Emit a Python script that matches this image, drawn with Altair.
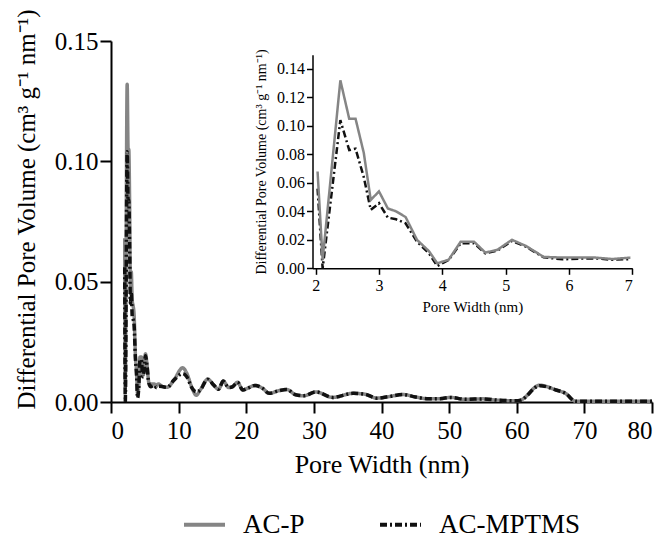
import altair as alt
import pandas as pd

series_names = ["AC-P", "AC-MPTMS"]

# 2-7 nm
inset_x = [2.03, 2.11, 2.39, 2.53, 2.63, 2.76, 2.87, 3.00, 3.14, 3.27, 3.42, 3.60, 3.79, 3.92,
           4.10, 4.29, 4.50, 4.68, 4.87, 5.10, 5.32, 5.60, 5.90, 6.20, 6.42, 6.68, 6.97]
acp_inset = [0.068, 0.006, 0.132, 0.105, 0.105, 0.081, 0.048, 0.054, 0.042, 0.040, 0.036, 0.020,
             0.012, 0.0035, 0.006, 0.0187, 0.0187, 0.011, 0.013, 0.020, 0.0157, 0.008, 0.0075,
             0.0075, 0.0075, 0.0065, 0.0075]
mptms_inset = [0.056, 0.000, 0.104, 0.083, 0.084, 0.064, 0.041, 0.0457, 0.0356, 0.0344, 0.0316,
               0.0187, 0.0105, 0.0016, 0.0058, 0.0176, 0.0176, 0.0105, 0.0124, 0.0192, 0.0152,
               0.0077, 0.0063, 0.0068, 0.0070, 0.0060, 0.0065]

# 7-80 nm
wide_x = [7.6, 8.3, 9.3, 10.6, 11.2, 12.0, 12.6, 13.2, 14.3, 15.2, 15.9, 16.6, 17.4, 18.0, 18.7,
          19.5, 20.2, 21.3, 22.4, 23.4, 24.8, 26.0, 27.3, 28.5, 30.3, 32.8, 35.8, 37.6, 39.3,
          41.0, 43.2, 45.0, 47.0, 48.7, 50.2, 52.4, 55.0, 57.0, 60.0, 60.6, 63.4, 65.8, 67.2,
          68.7, 72.0, 76.0, 80.0]
acp_wide = [0.0064, 0.0061, 0.0091, 0.0142, 0.0120, 0.0057, 0.0028, 0.0050, 0.0095, 0.0070,
            0.0053, 0.0087, 0.0060, 0.0064, 0.0082, 0.0050, 0.0057, 0.0069, 0.0057, 0.0036,
            0.0047, 0.0052, 0.0030, 0.0026, 0.0042, 0.0019, 0.0036, 0.0032, 0.0016, 0.0022,
            0.0031, 0.0021, 0.0013, 0.0014, 0.0019, 0.0011, 0.0013, 0.0008, 0.0005, 0.0008,
            0.0070, 0.0050, 0.0036, 0.0003, 0.0003, 0.0003, 0.0003]
mptms_wide = [0.0064, 0.0061, 0.0091, 0.0118, 0.0105, 0.0057, 0.0042, 0.0050, 0.0095, 0.0070,
              0.0053, 0.0087, 0.0060, 0.0064, 0.0082, 0.0050, 0.0057, 0.0069, 0.0057, 0.0036,
              0.0047, 0.0052, 0.0030, 0.0026, 0.0042, 0.0019, 0.0036, 0.0032, 0.0016, 0.0022,
              0.0031, 0.0021, 0.0013, 0.0014, 0.0019, 0.0011, 0.0013, 0.0008, 0.0005, 0.0008,
              0.0068, 0.0050, 0.0036, 0.0003, 0.0003, 0.0003, 0.0003]

main_ticks_x = [0, 10, 20, 30, 40, 50, 60, 70, 80]
main_ticks_y = [0.0, 0.05, 0.10, 0.15]
inset_ticks_x = [2, 3, 4, 5, 6, 7]
inset_ticks_y = [0.0, 0.02, 0.04, 0.06, 0.08, 0.10, 0.12, 0.14]

FONT = "Liberation Serif"
YTITLE = "Differential Pore Volume (cm³ g⁻¹ nm⁻¹)"

rows = []
for x, a, m in zip(inset_x + wide_x, acp_inset + acp_wide, mptms_inset + mptms_wide):
    rows.append({"x": x, "v": a, "series": "AC-P"})
    rows.append({"x": x, "v": m, "series": "AC-MPTMS"})
df_main = pd.DataFrame(rows)
rows = []
for x, a, m in zip(inset_x, acp_inset, mptms_inset):
    rows.append({"x": x, "v": a, "series": "AC-P"})
    rows.append({"x": x, "v": m, "series": "AC-MPTMS"})
df_inset = pd.DataFrame(rows)

legend = alt.Legend(
    title=None, orient="none", legendX=71, legendY=461, direction="horizontal", padding=0,
    labelFont=FONT, labelFontSize=27, labelColor="black", symbolType="stroke",
    symbolSize=1681, symbolStrokeWidth=4, labelOffset=16, columnPadding=67,
)
color = alt.Color("series:N", scale=alt.Scale(domain=series_names, range=["#858585", "#111111"]),
                  legend=legend)
dash = alt.StrokeDash("series:N", scale=alt.Scale(domain=series_names, range=[[1, 0], [7, 3, 2, 3]]),
                      legend=legend)

main_x = alt.X("x:Q", scale=alt.Scale(domain=[0, 80], nice=False),
               axis=alt.Axis(values=main_ticks_x, title="Pore Width (nm)", labelFontSize=25,
                             titleFontSize=26, tickSize=11, labelPadding=5, titlePadding=8,
                             domainWidth=2, tickWidth=2, titleFontWeight="normal"))
main_y = alt.Y("v:Q", scale=alt.Scale(domain=[0, 0.15], nice=False),
               axis=alt.Axis(values=main_ticks_y, format=".2f", title=YTITLE, labelFontSize=25,
                             titleFontSize=25, tickSize=11, labelPadding=2, domainWidth=2,
                             tickWidth=2, titleFontWeight="normal", titleX=-72, titleY=168,
                             titleAngle=270, titleAlign="center", titleBaseline="bottom"))

def main_layer(name):
    return alt.Chart(df_main).transform_filter(alt.datum.series == name).mark_line(
        strokeWidth=3.5, interpolate="monotone").encode(x=main_x, y=main_y, color=color, strokeDash=dash)

ins_x = alt.X("x:Q", scale=alt.Scale(domain=[1.95, 7], range=[201.5, 521.3], nice=False),
              axis=alt.Axis(orient="bottom", offset=-133.7, values=inset_ticks_x,
                            title="Pore Width (nm)", labelFontSize=16, titleFontSize=15,
                            tickSize=6, labelPadding=3, titlePadding=6, domainWidth=1.5,
                            tickWidth=1.5, titleFontWeight="normal"))
ins_y = alt.Y("v:Q", scale=alt.Scale(domain=[0, 0.15], range=[227.3, 13.7], nice=False),
              axis=alt.Axis(orient="left", offset=-201.5, values=inset_ticks_y, format=".2f",
                            title=YTITLE, labelFontSize=16, titleFontSize=14, tickSize=6,
                            labelPadding=2, titlePadding=8, domainWidth=1.5, tickWidth=1.5,
                            titleFontWeight="normal"))

def inset_layer(name):
    return alt.Chart(df_inset).transform_filter(alt.datum.series == name).mark_line(
        strokeWidth=2.5).encode(x=ins_x, y=ins_y, color=color, strokeDash=dash)

main = alt.layer(main_layer("AC-P"), main_layer("AC-MPTMS"))
inset = alt.layer(inset_layer("AC-MPTMS"), inset_layer("AC-P"))

chart = alt.layer(main, inset).resolve_scale(x="independent", y="independent").properties(
    width=541, height=361,
    autosize=alt.AutoSizeParams(type="none"),
    padding={"left": 103, "top": 33, "right": 10, "bottom": 137},
).configure_axis(
    grid=False, domainColor="black", tickColor="black", labelColor="black",
    titleColor="black", labelFont=FONT, titleFont=FONT,
).configure_view(stroke=None)

chart.save("out.html", embed_options={"renderer": "svg", "actions": False})
